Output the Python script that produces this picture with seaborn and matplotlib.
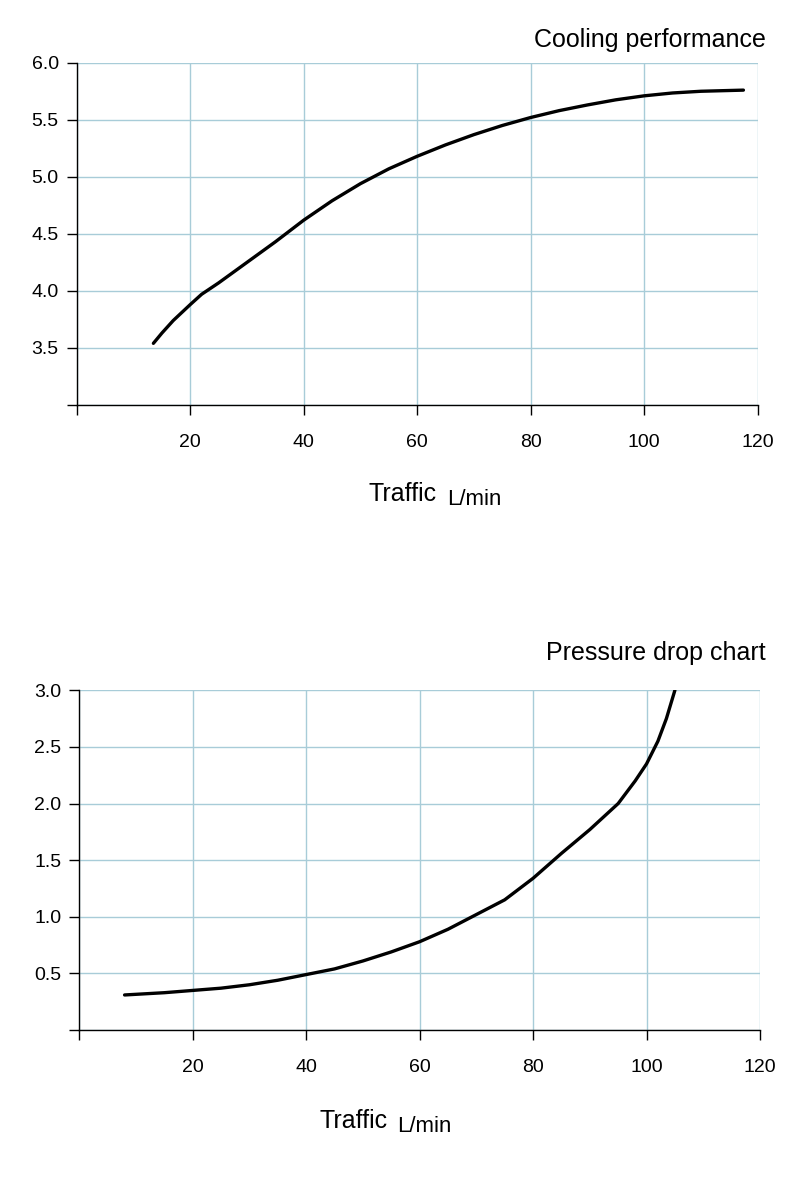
import matplotlib
matplotlib.use("Agg")
import matplotlib.pyplot as plt
import seaborn as sns

cool_x = [13.5, 15, 17, 20, 22, 25, 30, 35, 40, 45, 50, 55, 60, 65, 70, 75, 80, 85, 90, 95, 100, 105, 110, 117.5]
cool_y = [3.54, 3.63, 3.74, 3.88, 3.97, 4.07, 4.25, 4.43, 4.62, 4.79, 4.94, 5.07, 5.18, 5.28, 5.37, 5.45, 5.52, 5.58, 5.63, 5.675, 5.71, 5.735, 5.75, 5.76]
pd_x = [8, 15, 20, 25, 30, 35, 40, 45, 50, 55, 60, 65, 70, 75, 80, 85, 90, 95, 98, 100, 102, 103.5, 105]
pd_y = [0.31, 0.33, 0.35, 0.37, 0.40, 0.44, 0.49, 0.54, 0.61, 0.69, 0.78, 0.89, 1.02, 1.15, 1.34, 1.56, 1.77, 2.0, 2.2, 2.35, 2.55, 2.75, 3.0]
x_ticks = [0, 20, 40, 60, 80, 100, 120]
x_labels = ["", "20", "40", "60", "80", "100", "120"]
cool_yticks = [3.0, 3.5, 4.0, 4.5, 5.0, 5.5, 6.0]
pd_yticks = [0.0, 0.5, 1.0, 1.5, 2.0, 2.5, 3.0]

sns.set_style("white")
plt.rcParams['font.family'] = ['Liberation Sans', 'DejaVu Sans']
fig = plt.figure(figsize=(8, 11.84), dpi=100)

def panel(rect, xs, ys, yticks, title, ty, lx, ly):
    ax = fig.add_axes(rect)
    sns.lineplot(x=xs, y=ys, ax=ax, color="black", linewidth=2.4)
    ax.set_xlim(0, 120)
    ax.set_ylim(yticks[0], yticks[-1])
    ax.set_xticks(x_ticks)
    ax.set_xticklabels(x_labels, fontsize=14, color="black")
    ax.set_yticks(yticks)
    ax.set_yticklabels([""] + [f"{v:.1f}" for v in yticks[1:]], fontsize=14, color="black")
    ax.grid(True, color="#a8ccd8", linewidth=1)
    for s in ["top", "right"]:
        ax.spines[s].set_visible(False)
    for s in ["left", "bottom"]:
        ax.spines[s].set_color("black")
        ax.spines[s].set_linewidth(1)
    ax.tick_params(axis="x", direction="out", length=7, width=1, color="black", bottom=True, pad=14)
    ax.tick_params(axis="y", direction="out", length=7, width=1, color="black", left=True, pad=6)
    ax.set_axisbelow(True)
    fig.text(0.957, ty, title, ha="right", va="center", fontsize=18, color="black")
    fig.text(lx, ly, "Traffic", ha="left", va="center", fontsize=18, color="black")
    fig.text(lx + 0.098, ly - 0.005, "L/min", ha="left", va="center", fontsize=16, color="black")

panel([0.096, 0.658, 0.851, 0.289], cool_x, cool_y, cool_yticks, "Cooling performance", 1 - 40/1184, 0.461, 1 - 494/1184)
panel([0.099, 0.130, 0.851, 0.287], pd_x, pd_y, pd_yticks, "Pressure drop chart", 1 - 653/1184, 0.399, 1 - 1121/1184)

fig.savefig("out.png", dpi=100)
